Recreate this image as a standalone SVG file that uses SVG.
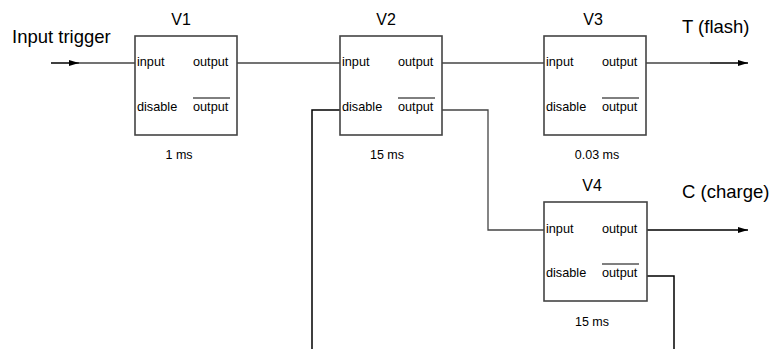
<svg xmlns="http://www.w3.org/2000/svg" width="772" height="349" viewBox="0 0 772 349">
<defs>
<style>
.box{fill:#fff;stroke:#444;stroke-width:1.6}
.lbl{font-family:"Liberation Sans",Arial,sans-serif;font-size:16px;fill:#000}
.big{font-family:"Liberation Sans",Arial,sans-serif;font-size:18.5px;fill:#000}
.pin{font-family:"Liberation Sans",Arial,sans-serif;font-size:12.7px;fill:#000}
.ms{font-family:"Liberation Sans",Arial,sans-serif;font-size:12.5px;fill:#000}
.ov{stroke:#000;stroke-width:1}
.wire{fill:none;stroke:#444;stroke-width:1.3}
.blk{fill:none;stroke:#000;stroke-width:1.5}
</style>
<marker id="arr" viewBox="0 0 10 6" refX="10" refY="3" markerWidth="10" markerHeight="6" markerUnits="userSpaceOnUse" orient="auto">
<path d="M0,0 L10,3 L0,6 Z" fill="#000"/>
</marker>
</defs>
<rect width="772" height="349" fill="#fff"/>
<text class="big" x="12" y="43">Input trigger</text>
<text class="big" x="682" y="33">T (flash)</text>
<text class="big" x="682" y="198">C (charge)</text>
<g id="connectors">
<line class="blk" x1="51" y1="63" x2="79" y2="63" marker-end="url(#arr)"/>
<line class="wire" x1="79" y1="63" x2="135" y2="63"/>
<line class="wire" x1="237" y1="63" x2="340" y2="63"/>
<line class="wire" x1="442" y1="63" x2="544" y2="63"/>
<line class="wire" x1="646" y1="63" x2="710" y2="63"/>
<line class="blk" x1="710" y1="63" x2="748" y2="63" marker-end="url(#arr)"/>
<polyline class="wire" points="442,110 488,110 488,230 544,230"/>
<polyline class="blk" points="340,110 312,110 312,349"/>
<line class="blk" x1="647" y1="230" x2="748" y2="230" marker-end="url(#arr)"/>
<polyline class="blk" points="647,276 674,276 674,349"/>
</g>
<g id="V1">
<rect class="box" x="135" y="36" width="102" height="99"/>
<text class="lbl" x="181" y="25" text-anchor="middle">V1</text>
<text class="pin" x="137" y="66">input</text>
<text class="pin" x="193" y="66">output</text>
<text class="pin" x="137" y="111">disable</text>
<line class="ov" x1="193" y1="98" x2="230" y2="98"/>
<text class="pin" x="193" y="111">output</text>
<text class="ms" x="179" y="159" text-anchor="middle">1 ms</text>
</g>
<g id="V2">
<rect class="box" x="340" y="36" width="102" height="99"/>
<text class="lbl" x="386" y="25" text-anchor="middle">V2</text>
<text class="pin" x="342" y="66">input</text>
<text class="pin" x="398" y="66">output</text>
<text class="pin" x="342" y="111">disable</text>
<line class="ov" x1="398" y1="98" x2="435" y2="98"/>
<text class="pin" x="398" y="111">output</text>
<text class="ms" x="387" y="159" text-anchor="middle">15 ms</text>
</g>
<g id="V3">
<rect class="box" x="544" y="36" width="102" height="99"/>
<text class="lbl" x="593" y="25" text-anchor="middle">V3</text>
<text class="pin" x="546" y="66">input</text>
<text class="pin" x="602" y="66">output</text>
<text class="pin" x="546" y="111">disable</text>
<line class="ov" x1="602" y1="98" x2="639" y2="98"/>
<text class="pin" x="602" y="111">output</text>
<text class="ms" x="597" y="159" text-anchor="middle">0.03 ms</text>
</g>
<g id="V4">
<rect class="box" x="544" y="202" width="103" height="99"/>
<text class="lbl" x="592" y="191" text-anchor="middle">V4</text>
<text class="pin" x="546" y="233">input</text>
<text class="pin" x="602" y="233">output</text>
<text class="pin" x="546" y="277">disable</text>
<line class="ov" x1="602" y1="264" x2="639" y2="264"/>
<text class="pin" x="602" y="277">output</text>
<text class="ms" x="592" y="326" text-anchor="middle">15 ms</text>
</g>
</svg>
